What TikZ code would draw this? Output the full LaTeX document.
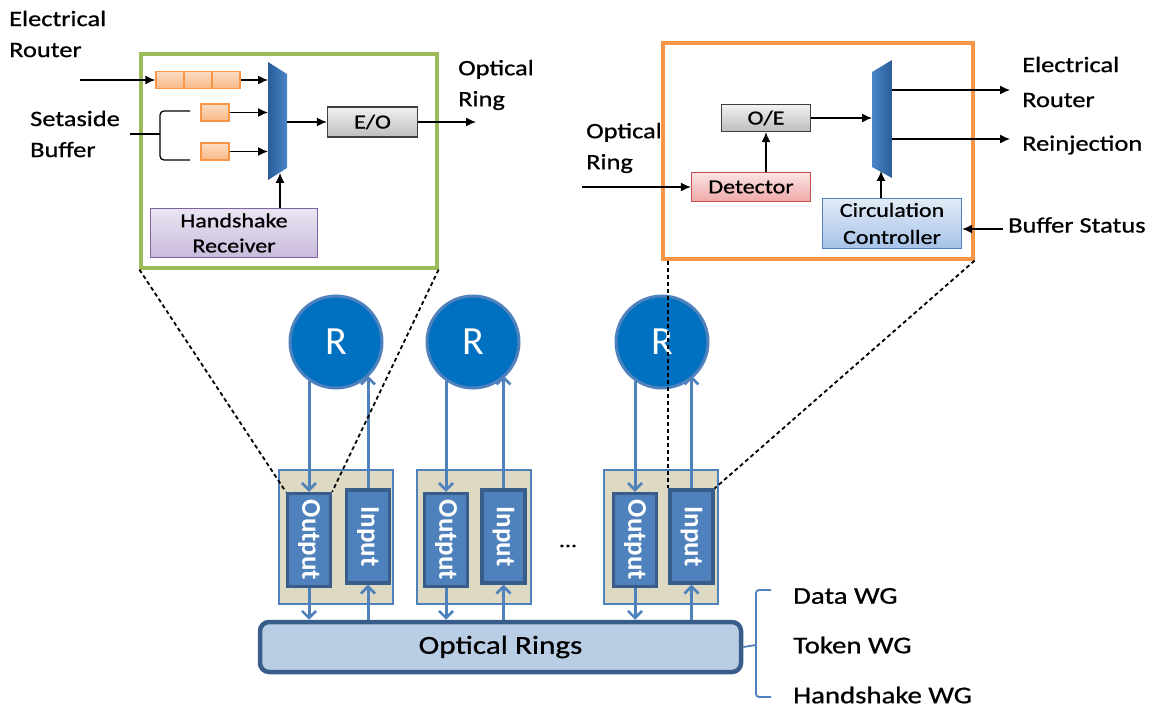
\documentclass[tikz,border=0pt]{standalone}
\usepackage{fontspec}
\setmainfont{Carlito}[FakeStretch=1.2,FakeBold=0.8]
\newfontfamily\rfont{Carlito}
\usetikzlibrary{arrows.meta}
\definecolor{gborder}{HTML}{9BBB59}
\definecolor{oborder}{HTML}{F79646}
\definecolor{qtop}{HTML}{FCDCC2}
\definecolor{qbot}{HTML}{F9B987}
\definecolor{eotop}{HTML}{F2F2F2}
\definecolor{eobot}{HTML}{BDBDBD}
\definecolor{eoline}{HTML}{404040}
\definecolor{hstop}{HTML}{EAE4F2}
\definecolor{hsbot}{HTML}{C9BBDC}
\definecolor{hsline}{HTML}{8064A2}
\definecolor{dttop}{HTML}{FBE3E3}
\definecolor{dtbot}{HTML}{EFA9A8}
\definecolor{dtline}{HTML}{C0504D}
\definecolor{cctop}{HTML}{E3ECF7}
\definecolor{ccbot}{HTML}{A5C2E8}
\definecolor{mxdark}{HTML}{2A5C9A}
\definecolor{mxlight}{HTML}{4A86C8}
\definecolor{rblue}{HTML}{0070C0}
\definecolor{bline}{HTML}{4F81BD}
\definecolor{pdark}{HTML}{385D8A}
\definecolor{tanfill}{HTML}{DDD9C3}
\definecolor{ringfill}{HTML}{B9CDE5}

\begin{document}
\begin{tikzpicture}[x=1pt,y=-1pt,
  arr/.style={-{Latex[length=10pt,width=9pt]},line width=1.3pt},
  barr/.style={-{Straight Barb[length=7pt,width=14pt,line width=2.6pt]},line width=3pt,draw=bline},
  dsh/.style={line width=1.8pt,dash pattern=on 4pt off 3pt},
  lbl/.style={inner sep=0pt,align=left,anchor=west,font=\fontsize{22}{31}\selectfont},
  blk/.style={line width=1.4pt,inner sep=0pt,align=center,font=\fontsize{20}{27}\selectfont},
  qcell/.style={draw=oborder,top color=qtop,bottom color=qbot,line width=1.5pt,minimum width=28pt,minimum height=17pt,inner sep=0pt},
  zoombox/.style={draw=#1,line width=3.2pt,inner sep=0pt},
  rnode/.style={circle,fill=rblue,draw=bline,line width=3pt,minimum size=92pt,text=white,font=\rfont\fontsize{40}{40}\selectfont},
  tanbox/.style={draw=bline,fill=tanfill,line width=2.6pt,minimum width=114pt,minimum height=134pt},
  port/.style={draw=pdark,fill=bline,line width=3.4pt,minimum width=43pt,minimum height=93pt,inner sep=0pt,text=white,font=\rfont\bfseries\fontsize{27}{27}\selectfont}]
\useasboundingbox (0,0) rectangle (1161,708);

% left detail box
\node[zoombox=gborder,minimum width=296pt,minimum height=214pt] (gb) at (289,161) {};
\node[lbl] (er1) at (9,34) {Electrical\\Router};
\node[lbl] (sab) at (30,134) {Setaside\\Buffer};
\node[lbl] (or1) at (458,85) {Optical\\Ring};
\node[qcell] (q1) at (170,80) {};
\node[qcell] (q2) at (198,80) {};
\node[qcell] (q3) at (226,80) {};
\node[qcell] (s1) at (215,112.5) {};
\node[qcell] (s2) at (215,151.5) {};
\shade[left color=mxdark,right color=mxlight] (268,62) -- (287,74) -- (287,168) -- (268,180) -- cycle;
\coordinate (m1a) at (268,80);
\coordinate (m1b) at (268,112.5);
\coordinate (m1c) at (268,151.5);
\coordinate (m1o) at (287,122);
\coordinate (m1s) at (280,173);
\node[blk,draw=eoline,top color=eotop,bottom color=eobot,minimum width=90pt,minimum height=30pt] (eo) at (372.5,122) {E/O};
\node[blk,draw=hsline,top color=hstop,bottom color=hsbot,minimum width=167pt,minimum height=49pt,font=\fontsize{20}{25}\selectfont] (hs) at (234,233) {Handshake\\Receiver};
\coordinate (ein) at (80,80);
\coordinate (eout) at (476,122);
\coordinate (sb) at (130,134);
\coordinate (sj) at (160,134);
\coordinate (st) at (190,111);
\coordinate (sbt) at (190,160);
\draw[arr] (ein) -- (q1.west);
\draw[arr] (q3.east) -- (m1a);
\draw[arr] (s1.east) -- (m1b);
\draw[arr] (s2.east) -- (m1c);
\draw[line width=1.3pt,rounded corners=4pt] (st) -| (sj) |- (sbt);
\draw[line width=1.3pt] (sb) -- (sj);
\draw[arr] (m1o) -- (eo.west);
\draw[arr] (eo.east) -- (eout);
\draw[arr] (hs.north -| m1s) -- (m1s);

% right detail box
\node[zoombox=oborder,minimum width=310pt,minimum height=216pt] (ob) at (818,151) {};
\node[lbl] (or2) at (586,148) {Optical\\Ring};
\node[lbl,font=\fontsize{22}{35}\selectfont] (er2) at (1022,82) {Electrical\\Router};
\node[lbl] (rj) at (1022,145) {Reinjection};
\node[lbl] (bst) at (1008,225) {Buffer Status};
\node[blk,draw=eoline,top color=eotop,bottom color=eobot,minimum width=89pt,minimum height=27pt] (oe) at (766,118) {O/E};
\node[blk,draw=dtline,top color=dttop,bottom color=dtbot,minimum width=119pt,minimum height=29pt] (det) at (751,187) {Detector};
\node[blk,draw=bline,top color=cctop,bottom color=ccbot,minimum width=139pt,minimum height=50pt] (cc) at (892,223.5) {Circulation\\Controller};
\shade[left color=mxlight,right color=mxdark] (872,72) -- (892,60) -- (892,178) -- (872,167) -- cycle;
\coordinate (m2i) at (872,118);
\coordinate (m2o1) at (892,90);
\coordinate (m2o2) at (892,139);
\coordinate (m2s) at (881,171);
\coordinate (oin) at (582,187);
\coordinate (eo1) at (1010,90);
\coordinate (eo2) at (1010,139);
\coordinate (bs) at (1003,229);
\draw[arr] (oin) -- (det.west);
\draw[arr] (det.north -| oe.south) -- (oe.south);
\draw[arr] (oe.east) -- (m2i);
\draw[arr] (m2o1) -- (eo1);
\draw[arr] (m2o2) -- (eo2);
\draw[arr] (cc.north -| m2s) -- (m2s);
\draw[arr] (bs) -- (bs -| cc.east);

% routers and ports
\node[tanbox] (t1) at (336,537) {};
\node[tanbox] (t2) at (474,537) {};
\node[tanbox] (t3) at (661,537) {};
\node[port] (o1) at (309,540) {\rotatebox{-90}{Output}};
\node[port] (i1) at (368,536.5) {\rotatebox{-90}{Input}};
\node[port] (o2) at (446,540) {\rotatebox{-90}{Output}};
\node[port] (i2) at (503.5,536.5) {\rotatebox{-90}{Input}};
\node[port] (o3) at (635,540) {\rotatebox{-90}{Output}};
\node[port] (i3) at (691.5,536.5) {\rotatebox{-90}{Input}};
\node[font=\fontsize{20}{20}\selectfont] (dots) at (568,546) {...};
\node[rnode] (r1) at (336,342) {R};
\node[rnode] (r2) at (473,342) {R};
\node[rnode] (r3) at (662,342) {R};
\node[draw=pdark,fill=ringfill,line width=4.5pt,rounded corners=9pt,minimum width=481pt,minimum height=50pt,font=\fontsize{26}{26}\selectfont] (ring) at (500.5,647) {Optical Rings};
\draw[barr] (o1.north |- r1.-125) -- (o1.north);
\draw[barr] (i1.north) -- (i1.north |- r1.-45);
\draw[barr] (o2.north |- r2.-125) -- (o2.north);
\draw[barr] (i2.north) -- (i2.north |- r2.-45);
\draw[barr] (o3.north |- r3.-125) -- (o3.north);
\draw[barr] (i3.north) -- (i3.north |- r3.-45);
\draw[barr] (o1.south) -- (o1.south |- ring.north);
\draw[barr] (i1.south |- ring.north) -- (i1.south);
\draw[barr] (o2.south) -- (o2.south |- ring.north);
\draw[barr] (i2.south |- ring.north) -- (i2.south);
\draw[barr] (o3.south) -- (o3.south |- ring.north);
\draw[barr] (i3.south |- ring.north) -- (i3.south);

% waveguides
\coordinate (bt) at (771,590);
\coordinate (bj) at (756,645);
\coordinate (bb) at (771,697);
\draw[bline,line width=1.8pt,rounded corners=3pt] (bt) -| (bj) |- (bb);
\draw[bline,line width=1.8pt] (ring.east) -- (bj);
\node[lbl,font=\fontsize{24}{24}\selectfont] (dwg) at (793,596) {Data WG};
\node[lbl,font=\fontsize{24}{24}\selectfont] (twg) at (793,645) {Token WG};
\node[lbl,font=\fontsize{24}{24}\selectfont] (hwg) at (793,695) {Handshake WG};

% zoom lines
\draw[dsh] (gb.south west) -- (o1.north west);
\draw[dsh] (gb.south east) -- (o1.north east);
\draw[dsh] (ob.south west -| i3.north west) -- (i3.north west);
\draw[dsh] (ob.south east) -- (i3.north east);
\end{tikzpicture}
\end{document}
